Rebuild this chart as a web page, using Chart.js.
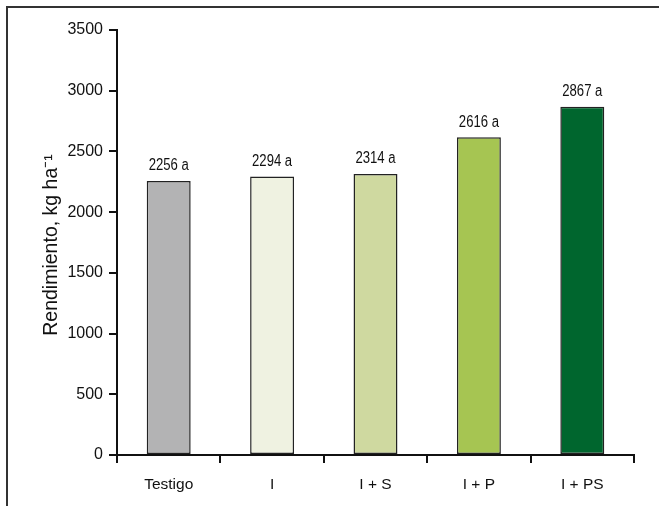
<!DOCTYPE html>
<html>
<head>
<meta charset="utf-8">
<script src="https://cdn.jsdelivr.net/npm/chart.js@4"></script>
<style>
html,body{margin:0;padding:0;background:#fff;}
#wrap{width:659px;height:506px;position:relative;}
</style>
</head>
<body>
<div id="wrap"><canvas id="c" width="659" height="506"></canvas></div>
<script>
const categories = ['Testigo', 'I', 'I + S', 'I + P', 'I + PS'];
const yieldValues = [2256, 2294, 2314, 2616, 2867];
const letters = ['a', 'a', 'a', 'a', 'a'];
const barColors = ['#b3b3b4', '#eff2e1', '#cfd9a0', '#a6c552', '#00662e'];
const yTicks = [0, 500, 1000, 1500, 2000, 2500, 3000, 3500];
const yTitle = 'Rendimiento, kg ha\u207B\u00B9';

const FONT = "'Liberation Sans', Arial, sans-serif";

const framePlugin = {
  id: 'frame',
  beforeDraw(chart) {
    const ctx = chart.ctx;
    ctx.save();
    ctx.strokeStyle = '#333';
    ctx.lineWidth = 2;
    ctx.beginPath();
    ctx.moveTo(7, 506);
    ctx.lineTo(7, 7);
    ctx.lineTo(659, 7);
    ctx.stroke();
    ctx.restore();
  }
};

const labelPlugin = {
  id: 'valueLabels',
  afterDatasetsDraw(chart) {
    const ctx = chart.ctx;
    const meta = chart.getDatasetMeta(0);
    ctx.fillStyle = '#111';
    meta.data.forEach((bar, i) => {
      ctx.save();
      ctx.font = '16px ' + FONT;
      ctx.textAlign = 'center';
      ctx.textBaseline = 'bottom';
      ctx.translate(bar.x, bar.y - 7);
      ctx.scale(0.82, 1);
      ctx.fillText(yieldValues[i] + ' ' + letters[i], 0, 0);
      ctx.restore();
    });
    // y-axis title
    ctx.save();
    ctx.fillStyle = '#111';
    ctx.translate(52, 245);
    ctx.rotate(-Math.PI / 2);
    ctx.font = '19.5px ' + FONT;
    ctx.textAlign = 'center';
    ctx.textBaseline = 'middle';
    ctx.fillText(yTitle, 0, 0);
    ctx.restore();
  }
};

new Chart(document.getElementById('c'), {
  type: 'bar',
  data: {
    labels: categories,
    datasets: [{
      data: yieldValues,
      backgroundColor: barColors,
      borderColor: '#222',
      borderWidth: 1.5,
      borderSkipped: false,
      barPercentage: 0.425,
      categoryPercentage: 1
    }]
  },
  options: {
    responsive: false,
    animation: false,
    devicePixelRatio: 1,
    layout: { padding: { left: 0, top: 30, right: 25, bottom: 0 } },
    plugins: { legend: { display: false }, tooltip: { enabled: false } },
    scales: {
      x: {
        offset: true,
        grid: { offset: true, drawOnChartArea: false, drawTicks: true, tickLength: 8, color: '#111', lineWidth: 2 },
        border: { color: '#111', width: 2 },
        ticks: { color: '#111', font: { family: FONT, size: 15.5 }, padding: 12, maxRotation: 0 },
        afterFit(s) { s.height = 51; }
      },
      y: {
        min: 0,
        max: 3500,
        afterBuildTicks(s) { s.ticks = yTicks.map(v => ({ value: v })); },
        grid: { drawOnChartArea: false, drawTicks: true, tickLength: 8, color: '#111', lineWidth: 2 },
        border: { color: '#111', width: 2 },
        ticks: { color: '#111', font: { family: FONT, size: 16 }, padding: 6, callback: v => String(v) },
        afterFit(s) { s.width = 117; }
      }
    }
  },
  plugins: [framePlugin, labelPlugin]
});
</script>
</body>
</html>
